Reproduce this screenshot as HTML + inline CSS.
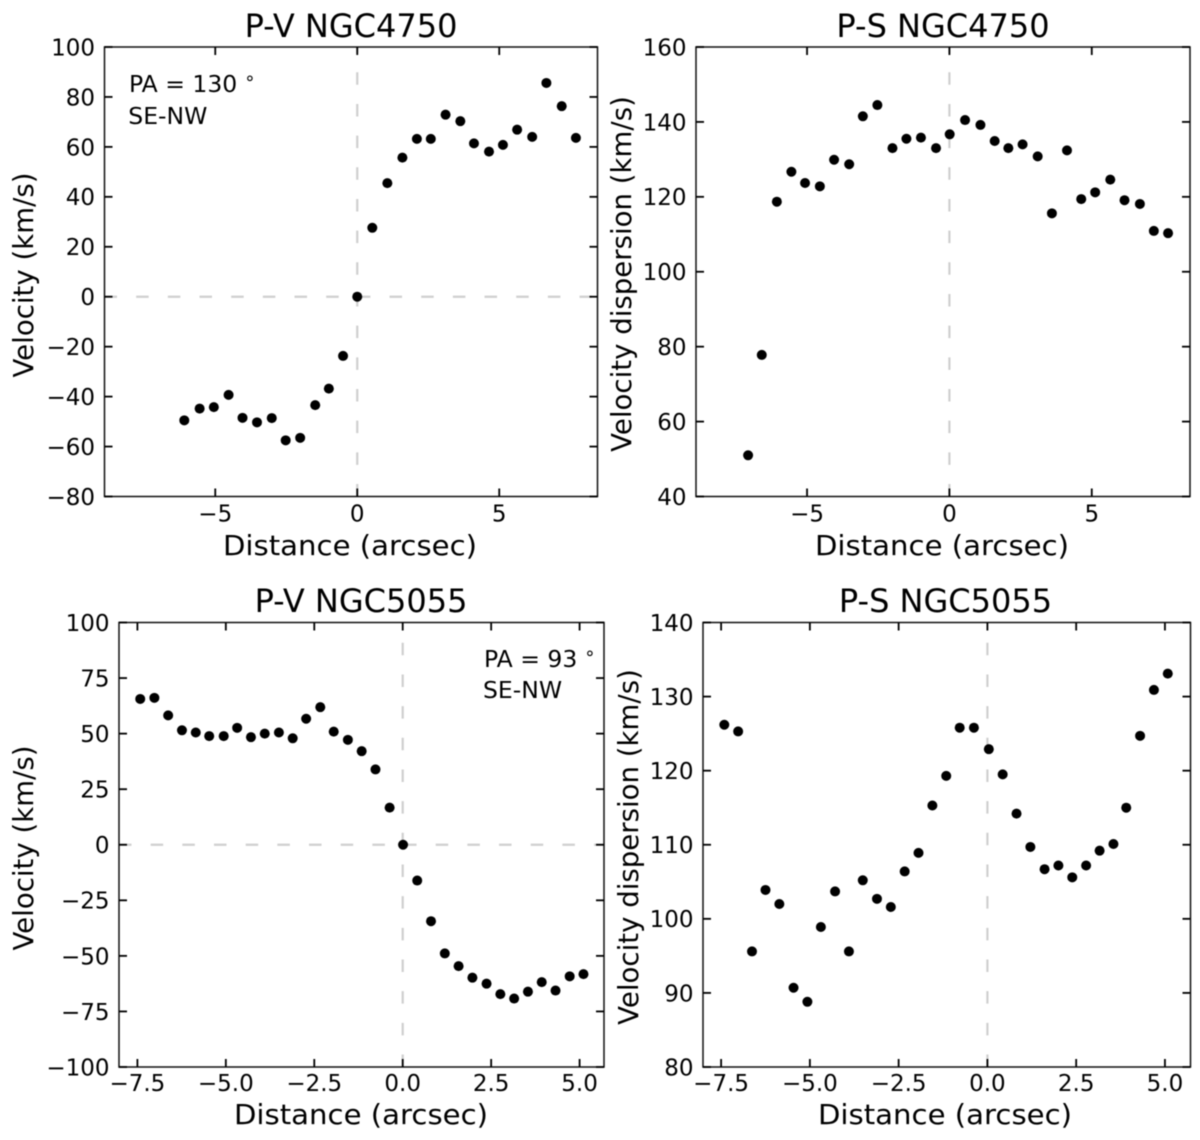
<!DOCTYPE html>
<html lang="en">
<head>
<meta charset="utf-8">
<title>Position-velocity and position-dispersion profiles</title>
<style>
html,body{margin:0;padding:0;background:#fff;}
svg{display:block;font-family:"DejaVu Sans","Liberation Sans",sans-serif;fill:#000;filter:blur(0.4px);}
.title{font-size:32px;text-anchor:middle;}
.label{font-size:27.4px;text-anchor:middle;}
.ylabel{font-size:27.6px;text-anchor:middle;}
.tick{font-size:23px;}
.note{font-size:23.5px;}
</style>
</head>
<body>
<svg id="figure" xmlns="http://www.w3.org/2000/svg" width="1200" height="1140" viewBox="0 0 1200 1140">
  <rect x="0" y="0" width="1200" height="1140" fill="#fff"/>

  <text class="title" x="351" y="37">P-V NGC4750</text>
  <text class="title" x="943" y="37">P-S NGC4750</text>
  <text class="title" x="361" y="612">P-V NGC5055</text>
  <text class="title" x="945.5" y="612">P-S NGC5055</text>

  <text class="label" transform="translate(350 555) scale(1.065 1)">Distance (arcsec)</text>
  <text class="label" transform="translate(942 555) scale(1.065 1)">Distance (arcsec)</text>
  <text class="label" transform="translate(361 1124) scale(1.065 1)">Distance (arcsec)</text>
  <text class="label" transform="translate(945 1124) scale(1.065 1)">Distance (arcsec)</text>

  <text class="ylabel" transform="translate(33 275) rotate(-90)">Velocity (km/s)</text>
  <text class="ylabel" transform="translate(631 274) rotate(-90)">Velocity dispersion (km/s)</text>
  <text class="ylabel" transform="translate(33 848) rotate(-90)">Velocity (km/s)</text>
  <text class="ylabel" transform="translate(638 847) rotate(-90)">Velocity dispersion (km/s)</text>

  <text class="note" x="129" y="92">PA = 130<tspan dy="-8" font-size="18" dx="7">∘</tspan></text>
  <text class="note" x="128.3" y="124">SE-NW</text>
  <text class="note" x="484" y="667">PA = 93<tspan dy="-8" font-size="18" dx="7">∘</tspan></text>
  <text class="note" x="483" y="698">SE-NW</text>
</svg>

<script>
// Panel 1: P-V NGC4750
const pv4750Distance = [-6.09,-5.55,-5.05,-4.53,-4.04,-3.53,-3.01,-2.52,-2.01,-1.48,-1.0,-0.5,0.0,0.53,1.06,1.59,2.1,2.59,3.11,3.63,4.11,4.64,5.13,5.63,6.16,6.66,7.2,7.7];
const pv4750Velocity = [-49.5,-44.8,-44.2,-39.3,-48.5,-50.3,-48.6,-57.5,-56.5,-43.4,-36.8,-23.7,0,27.6,45.5,55.7,63.2,63.2,72.9,70.3,61.4,58.1,60.8,66.9,64.0,85.6,76.3,63.6];
const pv4750XTicks = [-5,0,5];
const pv4750YTicks = [-80,-60,-40,-20,0,20,40,60,80,100];

// Panel 2: P-S NGC4750
const ps4750Distance = [-7.07,-6.59,-6.06,-5.55,-5.07,-4.55,-4.05,-3.52,-3.04,-2.53,-2.0,-1.51,-1.0,-0.47,0.01,0.55,1.09,1.59,2.07,2.57,3.1,3.6,4.13,4.63,5.12,5.65,6.15,6.69,7.18,7.68];
const ps4750Dispersion = [51.0,77.8,118.7,126.7,123.7,122.8,129.9,128.7,141.5,144.5,133.0,135.5,135.8,133.0,136.7,140.5,139.2,134.9,133.0,134.0,130.8,115.6,132.4,119.4,121.2,124.6,119.1,118.1,110.9,110.3];
const ps4750XTicks = [-5,0,5];
const ps4750YTicks = [40,60,80,100,120,140,160];

// Panel 3: P-V NGC5055
const pv5055Distance = [-7.42,-7.02,-6.63,-6.24,-5.85,-5.47,-5.06,-4.68,-4.29,-3.9,-3.5,-3.11,-2.73,-2.33,-1.95,-1.55,-1.16,-0.77,-0.37,0.01,0.41,0.8,1.19,1.58,1.97,2.37,2.76,3.15,3.54,3.93,4.32,4.72,5.11];
const pv5055Velocity = [65.6,66.1,58.2,51.5,50.5,48.9,48.9,52.6,48.4,50.0,50.5,47.9,56.7,61.9,50.9,47.2,42.1,33.9,16.7,0,-16.1,-34.4,-48.9,-54.6,-59.8,-62.5,-67.2,-69.2,-66.1,-61.8,-65.6,-59.2,-58.2];
const pv5055XTicks = [-7.5,-5,-2.5,0,2.5,5];
const pv5055YTicks = [-100,-75,-50,-25,0,25,50,75,100];

// Panel 4: P-S NGC5055
const ps5055Distance = [-7.41,-7.02,-6.63,-6.25,-5.86,-5.46,-5.07,-4.69,-4.29,-3.9,-3.51,-3.11,-2.72,-2.33,-1.94,-1.55,-1.16,-0.78,-0.38,0.04,0.43,0.82,1.21,1.61,2.0,2.39,2.78,3.16,3.55,3.91,4.3,4.69,5.08];
const ps5055Dispersion = [126.2,125.3,95.6,103.9,102.0,90.7,88.8,98.9,103.7,95.6,105.2,102.7,101.6,106.4,108.9,115.3,119.3,125.8,125.8,122.9,119.5,114.2,109.7,106.7,107.2,105.6,107.2,109.2,110.1,115.0,124.7,130.9,133.1];
const ps5055XTicks = [-7.5,-5,-2.5,0,2.5,5];
const ps5055YTicks = [80,90,100,110,120,130,140];

const NS = 'http://www.w3.org/2000/svg';
const figure = document.getElementById('figure');

function make(parent, tag, attrs) {
  const el = document.createElementNS(NS, tag);
  for (const k in attrs) el.setAttribute(k, attrs[k]);
  parent.appendChild(el);
  return el;
}

function fmt(v, decimals) {
  const s = Math.abs(v).toFixed(decimals);
  return (v < 0 ? '\u2212' : '') + s;
}

function drawPanel(p) {
  const sx = v => p.left + (v - p.xMin) / (p.xMax - p.xMin) * (p.right - p.left);
  const sy = v => p.bottom - (v - p.yMin) / (p.yMax - p.yMin) * (p.bottom - p.top);
  const dash = '12.5 19.17';
  const tickLen = 8;

  const g = make(figure, 'g', {});
  
  

  const vLine = make(g, 'line', {x1: sx(0), x2: sx(0), y1: p.bottom, y2: p.top, stroke: '#cfcfcf', 'stroke-width': 2.2, 'stroke-dasharray': dash});
  
  

  if (p.zeroLine) {
    const hLine = make(g, 'line', {x1: p.left, x2: p.right, y1: sy(0), y2: sy(0), stroke: '#cfcfcf', 'stroke-width': 2.2, 'stroke-dasharray': dash});
    
    
  }

  const frame = make(g, 'rect', {x: p.left, y: p.top, width: p.right - p.left, height: p.bottom - p.top, fill: 'none', stroke: '#111', 'stroke-width': 1.5});
  
  

  p.xTicks.forEach(v => {
    const x = sx(v);
    const tb = make(g, 'line', {x1: x, x2: x, y1: p.bottom, y2: p.bottom - tickLen, stroke: '#000', 'stroke-width': 1.8});
    
    
    const tt = make(g, 'line', {x1: x, x2: x, y1: p.top, y2: p.top + tickLen, stroke: '#000', 'stroke-width': 1.8});
    
    
    const lab = make(g, 'text', {x: x, y: p.bottom + p.xLabelGap, class: 'tick', 'text-anchor': 'middle'});
    
    
    lab.textContent = fmt(v, p.xDecimals);
  });

  p.yTicks.forEach(v => {
    const y = sy(v);
    const tl = make(g, 'line', {x1: p.left, x2: p.left + tickLen, y1: y, y2: y, stroke: '#000', 'stroke-width': 1.8});
    
    
    const tr = make(g, 'line', {x1: p.right, x2: p.right - tickLen, y1: y, y2: y, stroke: '#000', 'stroke-width': 1.8});
    
    
    const lab = make(g, 'text', {x: p.left - 9.5, y: y + 8.4, class: 'tick', 'text-anchor': 'end'});
    
    
    lab.textContent = fmt(v, 0);
  });

  p.xs.forEach((xv, i) => {
    const c = make(g, 'circle', {cx: sx(xv), cy: sy(p.ys[i]), r: 5, fill: '#000'});
    
    
  });
}

drawPanel({name: 'pv-ngc4750', left: 104.5, right: 597.5, top: 47, bottom: 496.5,
  xMin: -8.9, xMax: 8.46, yMin: -80, yMax: 100, zeroLine: true, xDecimals: 0, xLabelGap: 25,
  xTicks: pv4750XTicks, yTicks: pv4750YTicks, xs: pv4750Distance, ys: pv4750Velocity});

drawPanel({name: 'ps-ngc4750', left: 696, right: 1190, top: 47, bottom: 496.5,
  xMin: -8.9, xMax: 8.45, yMin: 40, yMax: 160, zeroLine: false, xDecimals: 0, xLabelGap: 25,
  xTicks: ps4750XTicks, yTicks: ps4750YTicks, xs: ps4750Distance, ys: ps4750Dispersion});

drawPanel({name: 'pv-ngc5055', left: 119, right: 604, top: 622.5, bottom: 1067,
  xMin: -8.02, xMax: 5.69, yMin: -100, yMax: 100, zeroLine: true, xDecimals: 1, xLabelGap: 24,
  xTicks: pv5055XTicks, yTicks: pv5055YTicks, xs: pv5055Distance, ys: pv5055Velocity});

drawPanel({name: 'ps-ngc5055', left: 703, right: 1190.5, top: 622.5, bottom: 1067,
  xMin: -8.01, xMax: 5.72, yMin: 80, yMax: 140, zeroLine: false, xDecimals: 1, xLabelGap: 24,
  xTicks: ps5055XTicks, yTicks: ps5055YTicks, xs: ps5055Distance, ys: ps5055Dispersion});
</script>
</body>
</html>
